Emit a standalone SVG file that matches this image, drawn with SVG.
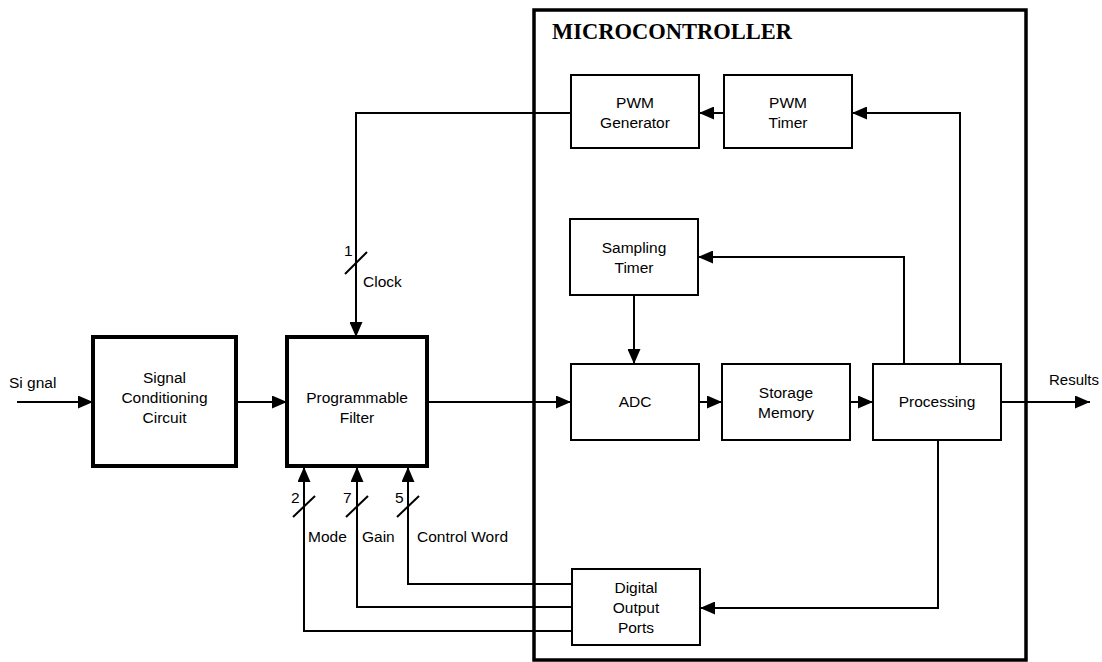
<svg xmlns="http://www.w3.org/2000/svg" width="1102" height="662" viewBox="0 0 1102 662">
<style>
.bx{fill:#fff;stroke:#000;stroke-width:2}
.tb{fill:#fff;stroke:#000;stroke-width:4}
.mc{fill:none;stroke:#000;stroke-width:3.5}
.ln{fill:none;stroke:#000;stroke-width:2}
.t{font-family:"Liberation Sans",Arial,sans-serif;font-size:15.5px;fill:#000;text-anchor:middle}
.l{font-family:"Liberation Sans",Arial,sans-serif;font-size:15.5px;fill:#000}
.h{font-family:"Liberation Serif","Times New Roman",serif;font-size:22.5px;font-weight:bold;fill:#000}
</style>
<defs>
<marker id="ah" viewBox="0 0 15 13" refX="15" refY="6.5" markerWidth="15" markerHeight="13" markerUnits="userSpaceOnUse" orient="auto">
<path d="M0,0 L15,6.5 L0,13 Z" fill="#000"/>
</marker>
</defs>
<rect width="1102" height="662" fill="#fff"/>
<g id="microcontroller">
<rect class="mc" x="534" y="10" width="492" height="650"/>
<text class="h" x="552" y="39">MICROCONTROLLER</text>
</g>
<g id="connectors">
<path class="ln" d="M17,402 H93" marker-end="url(#ah)"/>
<path class="ln" d="M236,402 H287" marker-end="url(#ah)"/>
<path class="ln" d="M427,402 H571" marker-end="url(#ah)"/>
<path class="ln" d="M699,402 H722" marker-end="url(#ah)"/>
<path class="ln" d="M850,402 H873" marker-end="url(#ah)"/>
<path class="ln" d="M1001,402 H1090" marker-end="url(#ah)"/>
<path class="ln" d="M571,113 H356 V337" marker-end="url(#ah)"/>
<path class="ln" d="M724,113 H699" marker-end="url(#ah)"/>
<path class="ln" d="M960,364 V113 H852" marker-end="url(#ah)"/>
<path class="ln" d="M904,364 V257 H698" marker-end="url(#ah)"/>
<path class="ln" d="M634,295 V364" marker-end="url(#ah)"/>
<path class="ln" d="M938,440 V608 H700" marker-end="url(#ah)"/>
<path class="ln" d="M572,584 H408 V467" marker-end="url(#ah)"/>
<path class="ln" d="M572,607 H357 V467" marker-end="url(#ah)"/>
<path class="ln" d="M572,631 H304 V467" marker-end="url(#ah)"/>
<path class="ln" d="M345,274 L367,252"/>
<path class="ln" d="M293,517 L315,496"/>
<path class="ln" d="M346,517 L368,496"/>
<path class="ln" d="M397,517 L419,496"/>
<text class="l" x="9" y="388">Si gnal</text>
<text class="l" x="344" y="256">1</text>
<text class="l" x="363" y="287">Clock</text>
<text class="l" x="291" y="503">2</text>
<text class="l" x="343" y="503">7</text>
<text class="l" x="395" y="503">5</text>
<text class="l" x="308" y="542">Mode</text>
<text class="l" x="362" y="542">Gain</text>
<text class="l" x="417" y="542">Control Word</text>
<text class="l" x="1049" y="385" style="font-size:15px">Results</text>
</g>
<g id="signal-conditioning">
<rect class="tb" x="93" y="337" width="143" height="129"/>
<text class="t" x="164.5" y="383">Signal</text>
<text class="t" x="164.5" y="403">Conditioning</text>
<text class="t" x="164.5" y="423">Circuit</text>
</g>
<g id="programmable-filter">
<rect class="tb" x="287" y="337" width="140" height="129"/>
<text class="t" x="357" y="403">Programmable</text>
<text class="t" x="357" y="423">Filter</text>
</g>
<g id="pwm-generator">
<rect class="bx" x="571" y="75" width="128" height="73"/>
<text class="t" x="635" y="108">PWM</text>
<text class="t" x="635" y="128">Generator</text>
</g>
<g id="pwm-timer">
<rect class="bx" x="724" y="75" width="128" height="73"/>
<text class="t" x="788" y="108">PWM</text>
<text class="t" x="788" y="128">Timer</text>
</g>
<g id="sampling-timer">
<rect class="bx" x="570" y="219" width="128" height="76"/>
<text class="t" x="634" y="253">Sampling</text>
<text class="t" x="634" y="273">Timer</text>
</g>
<g id="adc">
<rect class="bx" x="571" y="364" width="128" height="76"/>
<text class="t" x="635" y="407">ADC</text>
</g>
<g id="storage-memory">
<rect class="bx" x="722" y="364" width="128" height="76"/>
<text class="t" x="786" y="398">Storage</text>
<text class="t" x="786" y="418">Memory</text>
</g>
<g id="processing">
<rect class="bx" x="873" y="364" width="128" height="76"/>
<text class="t" x="937" y="407">Processing</text>
</g>
<g id="digital-output-ports">
<rect class="bx" x="572" y="569" width="128" height="76"/>
<text class="t" x="636" y="593">Digital</text>
<text class="t" x="636" y="613">Output</text>
<text class="t" x="636" y="633">Ports</text>
</g>
</svg>
